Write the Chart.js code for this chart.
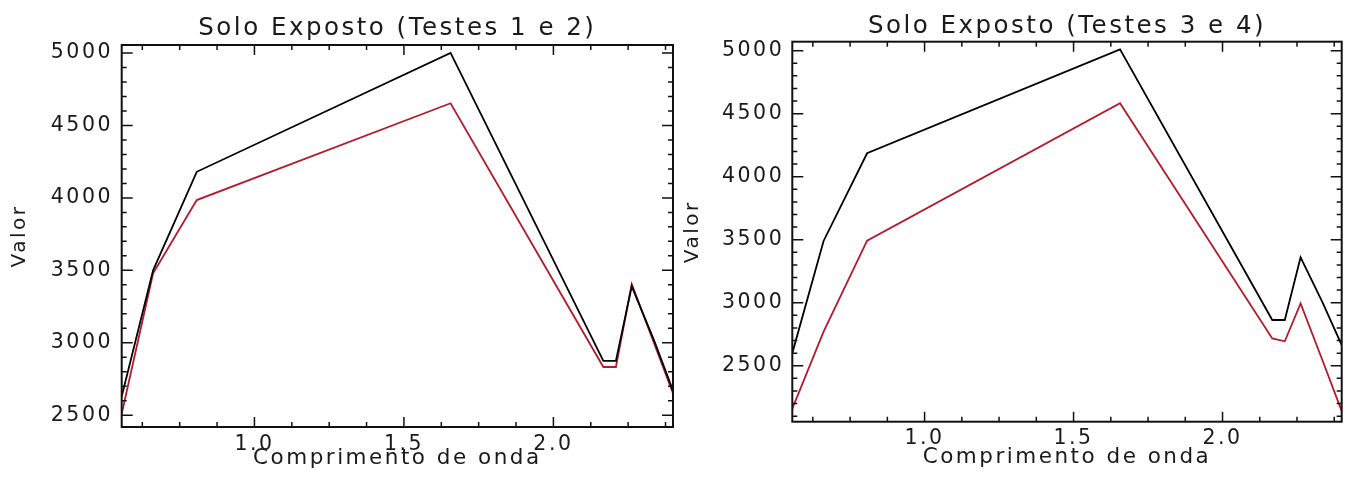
<!DOCTYPE html>
<html>
<head>
<meta charset="utf-8">
<title>Solo Exposto</title>
<script src="https://cdn.jsdelivr.net/npm/chart.js@4.4.1/dist/chart.umd.min.js"></script>
<style>
  html, body { margin: 0; padding: 0; background: #fff; }
  body { width: 1348px; height: 477px; position: relative; overflow: hidden; }
  .panel { position: absolute; top: 0; height: 477px; }
  #left { left: 0; width: 676px; }
  #right { left: 676px; width: 672px; }
</style>
</head>
<body>
<div class="panel" id="left"><canvas id="chart1"></canvas></div>
<div class="panel" id="right"><canvas id="chart2"></canvas></div>
<script>
// wavelengths (um) of the bands
const wavelengths = [0.556, 0.661, 0.807, 1.656, 2.167, 2.209, 2.262, 2.336, 2.400];

// Testes 1 e 2 (black / red)
const teste1 = [2630, 3500, 4180, 5000, 2875, 2875, 3390, 3020, 2670];
const teste2 = [2510, 3480, 3985, 4653, 2833, 2833, 3405, 3000, 2650];

// Testes 3 e 4 (black / red)
const teste3 = [2600, 3490, 4186, 5010, 2863, 2863, 3360, 3000, 2664];
const teste4 = [2160, 2770, 3492, 4583, 2717, 2694, 2995, 2540, 2140];

// tick labels
const xTickLabels = [1.0, 1.5, 2.0];
const yTickLabels = [2500, 3000, 3500, 4000, 4500, 5000];

const FONT = "'DejaVu Sans', sans-serif";
const TEXT = '#1a1a1a';
const BLACK = '#000000';
const RED = '#b41a2c';

// IDL-ish box with inward ticks on all four sides
const frameTicks = {
  id: 'frameTicks',
  beforeDraw(chart) {
    chart.ctx.letterSpacing = '2.5px';
  },
  afterDatasetsDraw(chart, args, o) {
    const { ctx, chartArea: a, scales: { x, y } } = chart;
    ctx.save();
    ctx.strokeStyle = '#111';
    ctx.lineWidth = 1.5;
    ctx.beginPath();
    const isMajor = (v, list) => list.some(m => Math.abs(m - v) < 1e-6);

    for (let k = Math.ceil(x.min / o.xMinor - 1e-9); k * o.xMinor <= x.max + 1e-9; k++) {
      const v = k * o.xMinor;
      const px = x.getPixelForValue(v);
      const len = isMajor(v, xTickLabels) ? 10 : 5;
      ctx.moveTo(px, a.bottom); ctx.lineTo(px, a.bottom - len);
      ctx.moveTo(px, a.top); ctx.lineTo(px, a.top + len);
    }
    for (let k = Math.ceil(y.min / o.yMinor - 1e-9); k * o.yMinor <= y.max + 1e-9; k++) {
      const v = k * o.yMinor;
      const py = y.getPixelForValue(v);
      const len = isMajor(v, yTickLabels) ? 11 : 5;
      ctx.moveTo(a.left, py); ctx.lineTo(a.left + len, py);
      ctx.moveTo(a.right, py); ctx.lineTo(a.right - len, py);
    }
    ctx.stroke();
    ctx.lineWidth = 2;
    ctx.strokeRect(a.left, a.top, a.right - a.left, a.bottom - a.top);
    ctx.restore();
  }
};

function makeChart(id, title, dataBlack, dataRed, o) {
  const ctx = document.getElementById(id).getContext('2d');
  return new Chart(ctx, {
    type: 'scatter',
    data: {
      datasets: [
        {
          label: 'black',
          data: wavelengths.map((w, i) => ({ x: w, y: dataBlack[i] })),
          showLine: true,
          borderColor: BLACK,
          borderWidth: 1.8,
          pointRadius: 0,
          tension: 0
        },
        {
          label: 'red',
          data: wavelengths.map((w, i) => ({ x: w, y: dataRed[i] })),
          showLine: true,
          borderColor: RED,
          borderWidth: 1.8,
          pointRadius: 0,
          tension: 0
        }
      ]
    },
    options: {
      responsive: true,
      maintainAspectRatio: false,
      animation: false,
      devicePixelRatio: 1,
      layout: { padding: { left: 0, right: o.padRight, top: 0, bottom: 0 } },
      plugins: {
        legend: { display: false },
        tooltip: { enabled: false },
        title: {
          display: true,
          text: title,
          fullSize: false,
          color: TEXT,
          font: { family: FONT, size: 24.5, weight: 'normal', lineHeight: 1.2 },
          padding: { top: o.titleTop, bottom: o.titleBottom }
        },
        frameTicks: { xMinor: 0.125, yMinor: 100 }
      },
      scales: {
        x: {
          type: 'linear',
          min: 0.556,
          max: 2.4,
          grid: { display: false },
          border: { display: false },
          afterBuildTicks: s => { s.ticks = xTickLabels.map(v => ({ value: v })); },
          afterFit: s => { s.height = o.xHeight; },
          ticks: {
            color: TEXT,
            font: { family: FONT, size: 20.5 },
            padding: o.xTickPad,
            maxRotation: 0,
            autoSkip: false,
            callback: v => Number(v).toFixed(1)
          },
          title: {
            display: true,
            text: 'Comprimento de onda',
            color: TEXT,
            font: { family: FONT, size: 21.5 },
            padding: { top: 0, bottom: o.xTitlePad }
          }
        },
        y: {
          type: 'linear',
          min: o.yMin,
          max: o.yMax,
          grid: { display: false },
          border: { display: false },
          afterBuildTicks: s => { s.ticks = yTickLabels.map(v => ({ value: v })); },
          afterFit: s => { s.width = o.yWidth; },
          ticks: {
            color: TEXT,
            font: { family: FONT, size: 20.5 },
            padding: o.yTickPad,
            callback: v => String(v)
          },
          title: {
            display: true,
            text: 'Valor',
            color: TEXT,
            font: { family: FONT, size: 20 },
            padding: { top: o.yTitlePad, bottom: 0 }
          }
        }
      }
    },
    plugins: [frameTicks]
  });
}

makeChart('chart1', 'Solo Exposto (Testes 1 e 2)', teste1, teste2, {
  padRight: 3, yWidth: 121.7, xHeight: 50, titleTop: 13.6, titleBottom: 2,
  xTickPad: -2.8, xTitlePad: 5.6, yTickPad: 0.7, yTitlePad: 7.4, yMin: 2419, yMax: 5055
});
makeChart('chart2', 'Solo Exposto (Testes 3 e 4)', teste3, teste4, {
  padRight: 6.3, yWidth: 116.3, xHeight: 55.3, titleTop: 12.3, titleBottom: 0,
  xTickPad: -3.5, xTitlePad: 6.5, yTickPad: 0.1, yTitlePad: 4.4, yMin: 2056, yMax: 5071
});
</script>
</body>
</html>
